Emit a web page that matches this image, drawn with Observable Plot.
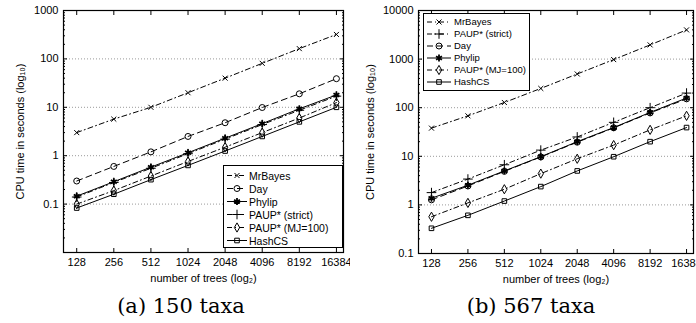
<!DOCTYPE html>
<html><head><meta charset="utf-8">
<script src="https://cdn.jsdelivr.net/npm/d3@7"></script>
<script src="https://cdn.jsdelivr.net/npm/@observablehq/plot@0.6"></script>
<style>
html,body{margin:0;padding:0;width:696px;height:323px;overflow:hidden;background:#fff;font-family:"Liberation Sans",Arial,sans-serif;}
.panel{position:absolute;top:0}
.cap{position:absolute;top:294px;font-family:"DejaVu Serif",serif;font-size:21px;transform:translateX(-50%);white-space:nowrap;color:#000}
.legend{position:absolute;box-sizing:border-box;border:1.5px solid #000;background:#fff;color:#000}
.row{display:flex;align-items:center;white-space:nowrap}
.row svg{flex:none;overflow:visible}
</style></head>
<body>
<div id="a" class="panel" style="left:0px"></div>
<div id="b" class="panel" style="left:350px"></div>
<div class="cap" style="left:181px">(a) 150 taxa</div>
<div class="cap" style="left:531px">(b) 567 taxa</div>
<script>
// ---- data ----
const trees = [128, 256, 512, 1024, 2048, 4096, 8192, 16384];

// (a) 150 taxa
const mrbayesA    = [3.0, 5.7, 10, 20, 40, 81, 163, 320];
const dayA        = [0.30, 0.60, 1.2, 2.5, 4.8, 9.9, 19, 39];
const phylipA     = [0.146, 0.29, 0.58, 1.15, 2.3, 4.6, 9.3, 18];
const paupStrictA = [0.14, 0.28, 0.55, 1.1, 2.2, 4.4, 8.7, 17];
const paupMJA     = [0.10, 0.19, 0.38, 0.76, 1.5, 3.0, 6.0, 12.5];
const hashcsA     = [0.083, 0.16, 0.32, 0.63, 1.25, 2.5, 5.0, 10];

// (b) 567 taxa
const mrbayesB    = [38, 68, 128, 249, 494, 977, 1960, 3990];
const paupStrictB = [1.79, 3.4, 6.7, 13.4, 25, 50, 100, 200];
const dayB        = [1.27, 2.45, 4.9, 9.7, 19.5, 38.5, 78, 152];
const phylipB     = [1.37, 2.54, 5.0, 9.8, 20, 39, 80, 158];
const paupMJB     = [0.57, 1.1, 2.1, 4.4, 8.9, 17, 35, 68];
const hashcsB     = [0.33, 0.61, 1.2, 2.38, 5.0, 9.8, 20, 39];

const yTicksA = [0.1, 1, 10, 100, 1000];
const yTicksB = [0.1, 1, 10, 100, 1000, 10000];

const DASHDOT = "5,3,1,3";
const DASHED = "6,4";
const style = {
  "MrBayes":          {symbol: d3.symbolTimes,    dash: DASHDOT, r: 2.4, fill: "none"},
  "Day":              {symbol: d3.symbolCircle,   dash: DASHED,  r: 3.0, fill: "none"},
  "Phylip":           {symbol: d3.symbolAsterisk, dash: null,    r: 3.2, fill: "none", sw: 1.8},
  "PAUP* (strict)":   {symbol: d3.symbolPlus,     dash: DASHDOT, r: 3.2, fill: "none"},
  "PAUP* (MJ=100)":   {symbol: d3.symbolDiamond,  dash: DASHDOT, r: 2.8, fill: "none"},
  "HashCS":           {symbol: d3.symbolSquare,   dash: null,    r: 2.6, fill: "none"}
};

const seriesA = [
  ["MrBayes", mrbayesA], ["Day", dayA], ["Phylip", phylipA],
  ["PAUP* (strict)", paupStrictA], ["PAUP* (MJ=100)", paupMJA], ["HashCS", hashcsA]
];
const seriesB = [
  ["MrBayes", mrbayesB], ["PAUP* (strict)", paupStrictB], ["Day", dayB],
  ["Phylip", phylipB], ["PAUP* (MJ=100)", paupMJB], ["HashCS", hashcsB]
];

function minorTicks(lo, hi) {
  const out = [];
  for (let e = Math.round(Math.log10(lo)); e < Math.round(Math.log10(hi)); e++)
    for (let k = 2; k <= 9; k++) out.push(k * Math.pow(10, e));
  return out;
}

function panel(series, yDomain, yTicks, dims) {
  const marks = [
    Plot.gridY(yTicks, {stroke: "#000", strokeOpacity: 0.5, strokeDasharray: "1,2", strokeWidth: 0.8})
  ];
  for (const [name, vals] of series) {
    const s = style[name];
    const data = trees.map((t, i) => ({trees: t, time: vals[i]}));
    marks.push(Plot.line(data, {x: "trees", y: "time", stroke: "#000", strokeWidth: 1, strokeDasharray: s.dash || undefined}));
    marks.push(Plot.dot(data, {x: "trees", y: "time", symbol: s.symbol, r: s.r, stroke: "#000", fill: s.fill, strokeWidth: s.sw || 1}));
  }
  const minor = minorTicks(yDomain[0], yDomain[1]);
  marks.push(
    Plot.frame({stroke: "#000", strokeWidth: 1.2}),
    Plot.axisX({ticks: trees, tickSize: 0, tickPadding: 6, tickFormat: d => String(d), fontSize: 11,
      label: "number of trees (log\u2082)", labelAnchor: "center", labelArrow: "none", labelOffset: 29}),
    Plot.axisX({ticks: trees, anchor: "bottom", tickSize: -4, tickFormat: () => "", label: null}),
    Plot.axisX({ticks: trees, anchor: "top", tickSize: -4, tickFormat: () => "", label: null}),
    Plot.axisY({ticks: yTicks, tickSize: 0, tickPadding: 5, tickFormat: d => String(d), fontSize: 11,
      label: "CPU time in seconds (log\u2081\u2080)", labelAnchor: "center", labelArrow: "none", labelOffset: dims.labelOffset}),
    Plot.axisY({ticks: yTicks, anchor: "left", tickSize: -4, tickFormat: () => "", label: null}),
    Plot.axisY({ticks: yTicks, anchor: "right", tickSize: -4, tickFormat: () => "", label: null}),
    Plot.axisY({ticks: minor, anchor: "left", tickSize: -2, tickFormat: () => "", label: null}),
    Plot.axisY({ticks: minor, anchor: "right", tickSize: -2, tickFormat: () => "", label: null})
  );
  return Plot.plot({
    width: dims.width, height: dims.height,
    marginLeft: dims.ml, marginRight: dims.mr, marginTop: dims.mt, marginBottom: dims.mb,
    style: {fontFamily: "'Liberation Sans', Arial, sans-serif", fontSize: "12px", background: "#fff", color: "#000", overflow: "visible"},
    x: {type: "log", base: 2, domain: [100, 18700]},
    y: {type: "log", domain: yDomain},
    marks
  });
}

function legend(host, series, box) {
  const div = document.createElement("div");
  div.className = "legend";
  Object.assign(div.style, {left: box.left + "px", top: box.top + "px", width: box.width + "px",
    height: box.height + "px", fontSize: box.fontSize + "px", paddingTop: box.pad + "px", paddingLeft: box.padL + "px"});
  for (const [name] of series) {
    const s = style[name];
    const row = document.createElement("div");
    row.className = "row";
    row.style.height = box.rowH + "px";
    const w = box.sampleW, h = box.rowH;
    const svg = d3.create("svg").attr("width", w).attr("height", h);
    svg.append("line").attr("x1", 0).attr("x2", w).attr("y1", h / 2).attr("y2", h / 2)
      .attr("stroke", "#000").attr("stroke-width", 1).attr("stroke-dasharray", s.dash);
    svg.append("path").attr("d", d3.symbol(s.symbol, s.r * s.r * Math.PI)())
      .attr("transform", `translate(${w / 2},${h / 2})`)
      .attr("fill", s.fill).attr("stroke", "#000").attr("stroke-width", s.sw || 1);
    row.appendChild(svg.node());
    const span = document.createElement("span");
    span.textContent = name;
    span.style.marginLeft = box.gap + "px";
    row.appendChild(span);
    div.appendChild(row);
  }
  document.body.appendChild(div);
}

document.getElementById("a").appendChild(
  panel(seriesA, [0.01, 1000], yTicksA, {width: 348, height: 285, ml: 63, mr: 5, mt: 10, mb: 33, labelOffset: 47}));
document.getElementById("b").appendChild(
  panel(seriesB, [0.1, 10000], yTicksB, {width: 346, height: 285, ml: 68, mr: 3, mt: 10, mb: 32, labelOffset: 52}));

legend(document.body, seriesA, {left: 223, top: 165, width: 120, height: 83, fontSize: 10.5, pad: 3, padL: 3, rowH: 13, sampleW: 20, gap: 2});
legend(document.body, seriesB, {left: 423, top: 13, width: 107, height: 78, fontSize: 9.5, pad: 1.5, padL: 3, rowH: 12, sampleW: 24, gap: 3});
</script>
</body></html>
